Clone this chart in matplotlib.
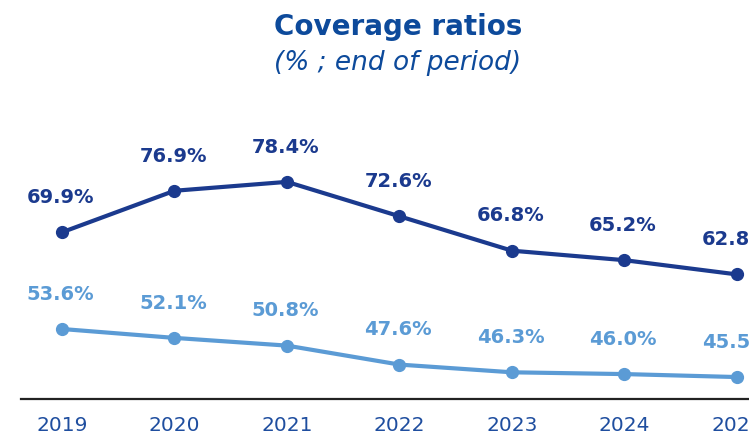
import matplotlib
matplotlib.use("Agg")
import matplotlib.pyplot as plt

# Coverage ratios, % at end of period
years = [2019, 2020, 2021, 2022, 2023, 2024, 2025]
ratio_dark = [69.9, 76.9, 78.4, 72.6, 66.8, 65.2, 62.8]
ratio_light = [53.6, 52.1, 50.8, 47.6, 46.3, 46.0, 45.5]
year_labels = [str(y) for y in years]

NAVY = "#1b3a8e"
LIGHT = "#5b9bd5"
TITLE = "#0d4a9b"
TICK = "#1f4e9f"

plt.rcParams["font.family"] = ["DejaVu Sans"]

W, H = 749, 441
fig = plt.figure(figsize=(W / 100, H / 100), dpi=100)

# axes in pixel terms: left 21, right at figure edge, bottom 399, top 100
left, right, bottom, top = 21, 749, 399, 100
ax = fig.add_axes([left / W, (H - bottom) / H, (right - left) / W, (bottom - top) / H])

for vals, col in ((ratio_dark, NAVY), (ratio_light, LIGHT)):
    ax.plot(years, vals, color=col, lw=3.0, marker="o", ms=8.5,
            solid_capstyle="round", zorder=3, clip_on=False)
    for x, v in zip(years, vals):
        ax.annotate(f"{v:.1f}%", (x, v), xytext=(-1, 25), textcoords="offset points",
                    ha="center", va="center", fontsize=14, fontweight="bold",
                    color=col, annotation_clip=False)

ax.set_xlim(2018.636, 2025.107)
ax.set_ylim(41.8, 92.2)

ax.set_xticks(years)
ax.set_xticklabels(year_labels, fontsize=14.5, color=TICK)
ax.tick_params(axis="x", length=0, pad=12)
ax.set_yticks([])

for s in ("top", "right", "left"):
    ax.spines[s].set_visible(False)
ax.spines["bottom"].set_color("#222222")
ax.spines["bottom"].set_linewidth(1.6)
ax.patch.set_alpha(0)

fig.text(398 / W, 1 - 27 / H, "Coverage ratios", ha="center", va="center",
         fontsize=20, fontweight="bold", color=TITLE)
fig.text(398 / W, 1 - 63 / H, "(% ; end of period)", ha="center", va="center",
         fontsize=19, fontstyle="italic", color=TITLE)

fig.savefig("out.png", dpi=100)
